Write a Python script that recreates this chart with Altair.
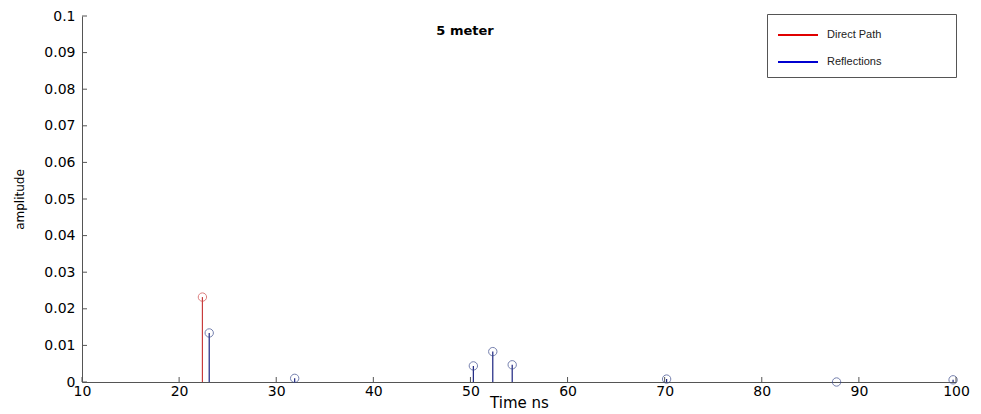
import altair as alt
import pandas as pd

# data
direct_time = [22.4]
direct_amp = [0.0232]
refl_time = [23.1, 31.9, 50.3, 52.3, 54.3, 70.2, 87.7, 99.7]
refl_amp = [0.0134, 0.0010, 0.0044, 0.0083, 0.0047, 0.0008, 0.0, 0.0006]
x_ticks = [10, 20, 30, 40, 50, 60, 70, 80, 90, 100]
y_ticks = [0, 0.01, 0.02, 0.03, 0.04, 0.05, 0.06, 0.07, 0.08, 0.09, 0.1]
series = ["Direct Path", "Reflections"]
legend_colors = ["#e00000", "#0000d0"]
stem_colors = ["#c83c3c", "#1c2480"]
marker_colors = ["#d04848", "#3a4a8c"]

W, H = 874, 366
FONT = "DejaVu Sans"

df = pd.DataFrame(
    {"time": direct_time + refl_time,
     "amp": direct_amp + refl_amp,
     "type": [series[0]] * len(direct_time) + [series[1]] * len(refl_time)}
)

xs = alt.Scale(domain=[10, 100], nice=False, zero=False)
ys = alt.Scale(domain=[0, 0.1], nice=False)
x_axis = alt.Axis(values=x_ticks, title="Time ns", tickSize=0, labelPadding=2,
                  labelFlush=False, labelOverlap=False, titlePadding=-3, grid=False)
y_axis = alt.Axis(values=y_ticks, format="~g", title="amplitude", tickSize=0,
                  labelPadding=7, titlePadding=17, grid=False,
                  labelFlush=False, labelOverlap=False)

base = alt.Chart(df)

stems = base.mark_rule(strokeWidth=1.2).encode(
    x=alt.X("time:Q", scale=xs, axis=x_axis),
    y=alt.Y("amp:Q", scale=ys, axis=y_axis),
    y2=alt.datum(0),
    color=alt.Color("type:N", scale=alt.Scale(domain=series, range=stem_colors), legend=None),
)

markers = base.mark_point(shape="circle", filled=False, size=70, strokeWidth=1).encode(
    x=alt.X("time:Q", scale=xs, axis=x_axis),
    y=alt.Y("amp:Q", scale=ys, axis=y_axis),
    color=alt.Color("type:N", scale=alt.Scale(domain=series, range=marker_colors), legend=None),
)

# legend built from series names; padded label widens the box like the reference
PAD = "\u00a0" * 21 + "\u200b"
leg_df = pd.DataFrame({"type": series})
legend_layer = alt.Chart(leg_df).mark_point(opacity=0).encode(
    stroke=alt.Stroke("type:N", scale=alt.Scale(domain=series, range=legend_colors),
                      legend=alt.Legend(title=None, orient="none", legendX=W - 189, legendY=-2,
                                        symbolType="M-1,0H3", symbolSize=400, symbolStrokeWidth=2,
                                        labelFontSize=11, labelFont="Liberation Sans",
                                        labelColor="#222",
                                        labelExpr="datum.label + '" + PAD + "'",
                                        labelOffset=28, rowPadding=11,
                                        padding=10, strokeColor="#555", fillColor="white",
                                        labelLimit=300, symbolOpacity=1)),
)

xtick_df = pd.DataFrame({"t": x_ticks})
ytick_df = pd.DataFrame({"v": y_ticks})
xticks = alt.Chart(xtick_df).mark_rule(color="#555").encode(
    x=alt.X("t:Q", scale=xs, axis=x_axis), y=alt.datum(0, scale=ys, axis=y_axis),
    y2=alt.value(H - 5))
yticks = alt.Chart(ytick_df).mark_rule(color="#555").encode(
    y=alt.Y("v:Q", scale=ys, axis=y_axis), x=alt.datum(10, scale=xs, axis=x_axis),
    x2=alt.value(5))

title = alt.Chart(pd.DataFrame({"s": ["5 meter"]})).mark_text(
    fontWeight="bold", fontSize=13, font=FONT, color="black").encode(
    text="s:N", x=alt.value(383), y=alt.value(15))

chart = alt.layer(stems, markers, xticks, yticks, title, legend_layer).resolve_scale(
    color="independent", stroke="independent"
).properties(
    width=W, height=H,
    autosize=alt.AutoSizeParams(type="none"),
    padding={"left": 74, "top": 8, "right": 17, "bottom": 30},
).configure_view(stroke=None).configure_axis(
    domainColor="#555", labelFont=FONT, labelFontSize=14, labelColor="black",
    titleFont=FONT, titleFontWeight="normal", titleColor="black",
).configure_axisX(titleFontSize=15).configure_axisY(titleFontSize=12)

chart.save("out.html", embed_options={"renderer": "svg", "actions": False})
